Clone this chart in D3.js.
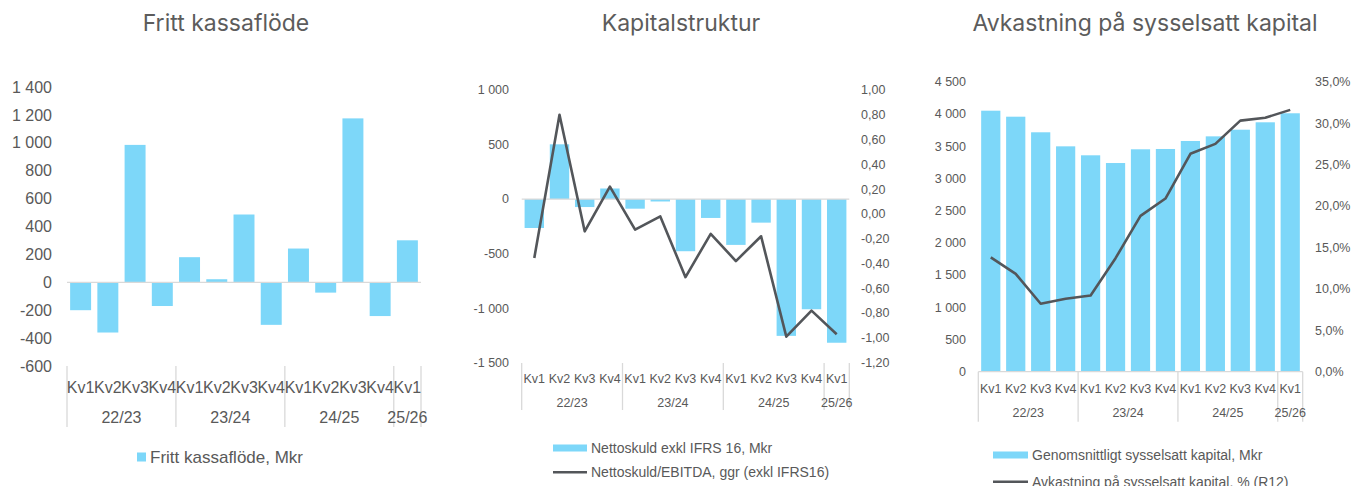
<!DOCTYPE html>
<html><head><meta charset="utf-8">
<script src="https://cdn.jsdelivr.net/npm/d3@7"></script>
<style>
body{margin:0;background:#fff;}
svg{display:block;}
text{font-family:"Liberation Sans",Arial,sans-serif;fill:#595959;}
.title{font-family:Inter,"Liberation Sans",sans-serif;fill:#5c5c5c;}
</style></head>
<body>
<script>
// ---------- DATA ----------
const quarters = ["Kv1","Kv2","Kv3","Kv4","Kv1","Kv2","Kv3","Kv4","Kv1","Kv2","Kv3","Kv4","Kv1"];
const years = ["22/23","23/24","24/25","25/26"];
const yearSpans = [4,4,4,1];

const fcfValues = [-200,-360,985,-170,180,22,486,-305,242,-74,1175,-242,301];
const fcfTicks = [-600,-400,-200,0,200,400,600,800,1000,1200,1400];

const debtValues = [-265,502,-73,97,-88,-22,-478,-173,-420,-216,-1254,-1010,-1317];
const debtRatio = [-0.355,0.80,-0.14,0.22,-0.127,-0.02,-0.51,-0.16,-0.38,-0.18,-0.99,-0.78,-0.97];
const debtTicks = [-1500,-1000,-500,0,500,1000];
const ratioTicks = [-1.2,-1.0,-0.8,-0.6,-0.4,-0.2,0,0.2,0.4,0.6,0.8,1.0];

const capValues = [4050,3957,3715,3497,3358,3238,3451,3456,3580,3652,3755,3870,4010];
const roceValues = [13.8,11.8,8.2,8.8,9.2,13.7,18.8,20.9,26.3,27.5,30.3,30.65,31.6];
const capTicks = [0,500,1000,1500,2000,2500,3000,3500,4000,4500];
const roceTicks = [0,5,10,15,20,25,30,35];

const titles = ["Fritt kassaflöde","Kapitalstruktur","Avkastning på sysselsatt kapital"];
const legendFcf = ["Fritt kassaflöde, Mkr"];
const legendDebt = ["Nettoskuld exkl IFRS 16, Mkr","Nettoskuld/EBITDA, ggr (exkl IFRS16)"];
const legendCap = ["Genomsnittligt sysselsatt kapital, Mkr","Avkastning på sysselsatt kapital, % (R12)"];

// ---------- STYLE ----------
const BAR = "#7dd7f9", LINE = "#53565a", GRID = "#d9d9d9";

const W = 1354, H = 486;
const svg = d3.select("body").append("svg").attr("width",W).attr("height",H);

const spaceFmt = v => (v<0?"-":"") + d3.format(",")(Math.abs(v)).replace(/,/g," ");
const dec2 = v => (v<0?"-":"") + Math.abs(v).toFixed(2).replace(".",",");
const pct1 = v => v.toFixed(1).replace(".",",") + "%";

function panel(cfg){
  const g = svg.append("g");
  const x = d3.scaleBand().domain(d3.range(quarters.length))
    .range([cfg.x0,cfg.x1]).paddingInner(0.23).paddingOuter(0.115);
  const step = x.step();
  const y = d3.scaleLinear().domain(cfg.yDomain).range([cfg.yBot,cfg.yTop]);

  // title
  g.append("text").attr("class","title").attr("x",cfg.titleX).attr("y",31)
    .attr("text-anchor","middle").style("font-size","23px").text(cfg.title);

  // left axis labels
  g.selectAll(".yl").data(cfg.yTicks).join("text")
    .attr("x",cfg.yLabelX).attr("y",d=>y(d)).attr("dy","0.35em")
    .attr("text-anchor","end").style("font-size",cfg.fs+"px").text(cfg.yFmt);

  // bars
  g.selectAll(".bar").data(cfg.bars).join("rect")
    .attr("x",(d,i)=>x(i)).attr("width",x.bandwidth())
    .attr("y",d=>y(Math.max(0,d))).attr("height",d=>Math.abs(y(d)-y(0)))
    .attr("fill",BAR);

  // zero / base line
  g.append("line").attr("x1",cfg.x0).attr("x2",cfg.x1)
    .attr("y1",y(0)).attr("y2",y(0)).attr("stroke",GRID).attr("stroke-width",1.3);

  // right axis + line
  if(cfg.line){
    const y2 = d3.scaleLinear().domain(cfg.y2Domain).range([cfg.yBot,cfg.yTop]);
    g.selectAll(".yr").data(cfg.y2Ticks).join("text")
      .attr("x",cfg.y2LabelX).attr("y",d=>y2(d)).attr("dy","0.35em")
      .attr("text-anchor","start").style("font-size",cfg.fs+"px").text(cfg.y2Fmt);
    const ln = d3.line().x((d,i)=>x(i)+x.bandwidth()/2).y(d=>y2(d));
    g.append("path").datum(cfg.line).attr("d",ln).attr("fill","none")
      .attr("stroke",LINE).attr("stroke-width",2.6).attr("stroke-linejoin","round");
  }

  // category axis: separators
  let acc = 0; const bounds=[0];
  yearSpans.forEach(s=>{acc+=s;bounds.push(acc);});
  g.selectAll(".sep").data(bounds).join("line")
    .attr("x1",d=>cfg.x0+d*step).attr("x2",d=>cfg.x0+d*step)
    .attr("y1",cfg.sepTop).attr("y2",cfg.sepBot).attr("stroke",GRID).attr("stroke-width",1.3);

  g.selectAll(".q").data(quarters).join("text")
    .attr("x",(d,i)=>x(i)+x.bandwidth()/2).attr("y",cfg.qY).attr("dy","0.35em")
    .attr("text-anchor","middle").style("font-size",cfg.fs+"px").text(d=>d);

  g.selectAll(".yr2").data(years).join("text")
    .attr("x",(d,i)=>cfg.x0+step*(bounds[i]+bounds[i+1])/2).attr("y",cfg.yrY).attr("dy","0.35em")
    .attr("text-anchor","middle").style("font-size",cfg.fs+"px").text(d=>d);

  // legend
  cfg.legend(g);
}

panel({
  title:titles[0], titleX:226,
  x0:67, x1:421, yTop:87, yBot:366, yDomain:[-600,1400],
  yTicks:fcfTicks, yFmt:spaceFmt, yLabelX:52, fs:16,
  bars:fcfValues,
  sepTop:366, sepBot:427, qY:387, yrY:417,
  legend:g=>{
    g.append("rect").attr("x",137).attr("y",452.5).attr("width",9).attr("height",9).attr("fill",BAR);
    g.append("text").attr("x",150).attr("y",463).style("font-size","17px").text(legendFcf[0]);
  }
});

panel({
  title:titles[1], titleX:681,
  x0:521.7, x1:849.3, yTop:90, yBot:362.7, yDomain:[-1500,1000],
  yTicks:debtTicks, yFmt:spaceFmt, yLabelX:509, fs:12.5,
  bars:debtValues,
  line:debtRatio, y2Domain:[-1.2,1.0], y2Ticks:ratioTicks, y2Fmt:dec2, y2LabelX:861,
  sepTop:363, sepBot:410, qY:379, yrY:403,
  legend:g=>{
    g.append("rect").attr("x",553).attr("y",444.5).attr("width",34).attr("height",7).attr("fill",BAR);
    g.append("text").attr("x",591).attr("y",453).style("font-size","14px").text(legendDebt[0]);
    g.append("line").attr("x1",553).attr("x2",587).attr("y1",472.3).attr("y2",472.3)
      .attr("stroke",LINE).attr("stroke-width",2.6);
    g.append("text").attr("x",591).attr("y",477.3).style("font-size","14px").text(legendDebt[1]);
  }
});

panel({
  title:titles[2], titleX:1145,
  x0:978.3, x1:1302.7, yTop:81.7, yBot:371.7, yDomain:[0,4500],
  yTicks:capTicks, yFmt:spaceFmt, yLabelX:966, fs:12.5,
  bars:capValues,
  line:roceValues, y2Domain:[0,35], y2Ticks:roceTicks, y2Fmt:pct1, y2LabelX:1315,
  sepTop:371.7, sepBot:421.7, qY:389, yrY:413,
  legend:g=>{
    g.append("rect").attr("x",993).attr("y",451.5).attr("width",35).attr("height",7).attr("fill",BAR);
    g.append("text").attr("x",1032).attr("y",460).style("font-size","14px").text(legendCap[0]);
    g.append("line").attr("x1",993).attr("x2",1028).attr("y1",481.7).attr("y2",481.7)
      .attr("stroke",LINE).attr("stroke-width",2.6);
    g.append("text").attr("x",1032).attr("y",487).style("font-size","14px").text(legendCap[1]);
  }
});
</script>
</body></html>
